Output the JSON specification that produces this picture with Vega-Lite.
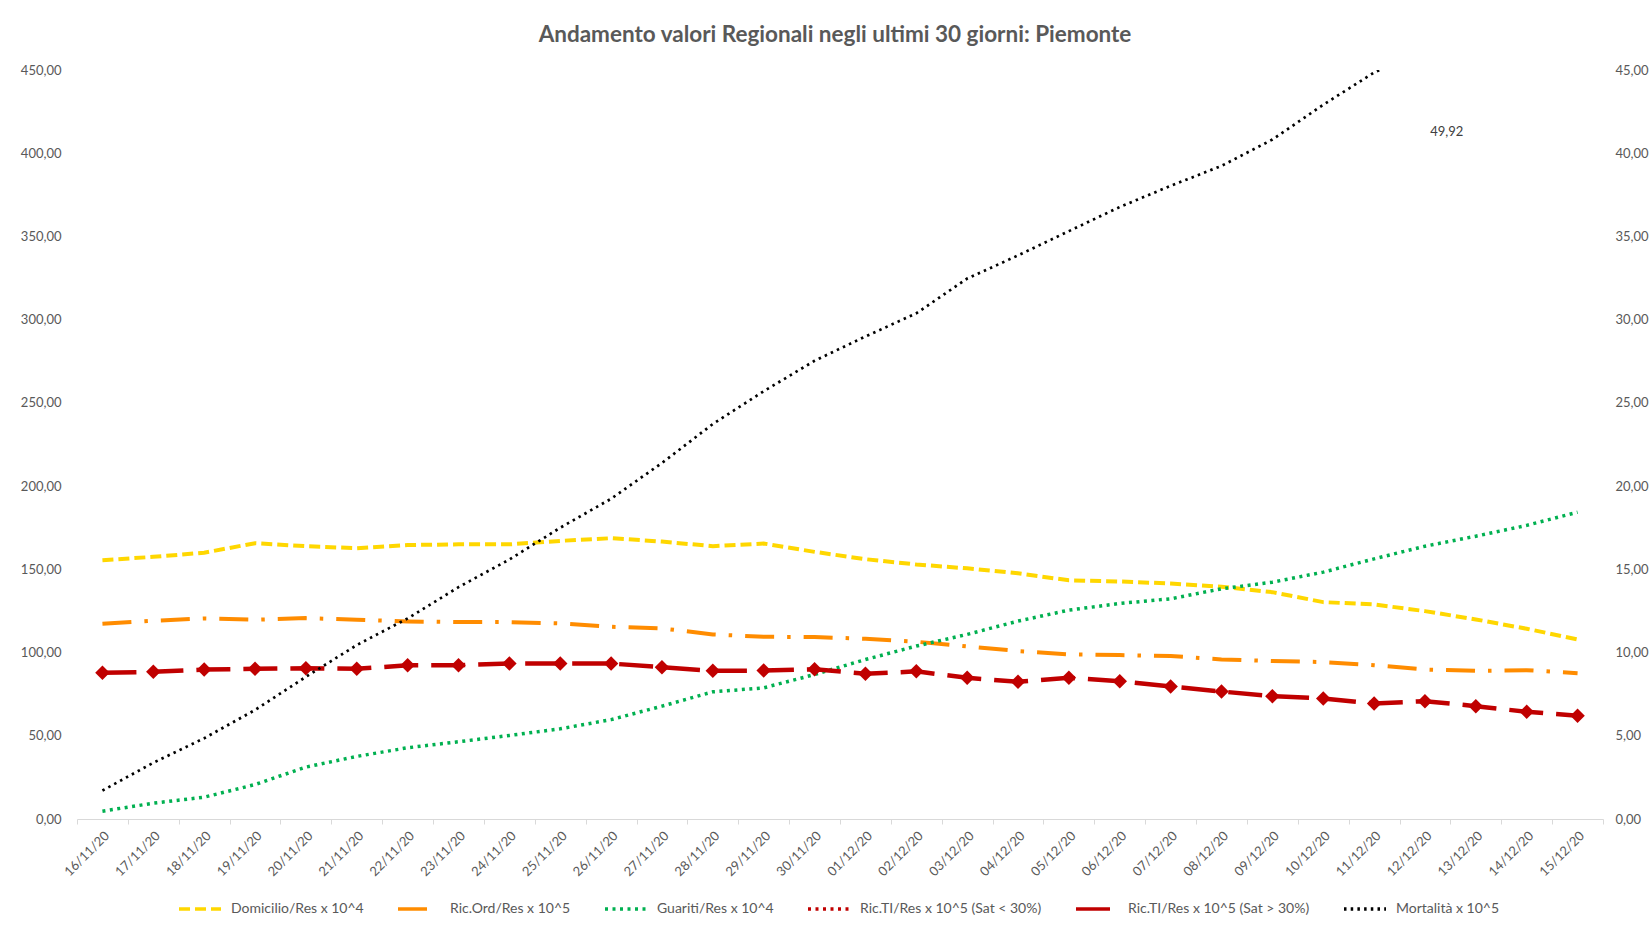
{
  "$schema": "https://vega.github.io/schema/vega-lite/v6.json",
  "width": 1526,
  "height": 749,
  "autosize": {"type": "none"},
  "padding": {"left": 77, "top": 70, "right": 49, "bottom": 111},
  "background": "white",
  "config": {
    "font": "Lato",
    "view": {"stroke": null},
    "axis": {"grid": false, "labelColor": "#595959", "labelFontSize": 13, "labelFont": "Lato"}
  },
  "title": {
    "text": "Andamento valori Regionali negli ultimi 30 giorni: Piemonte",
    "fontSize": 22.5,
    "fontWeight": "bold",
    "color": "#595959",
    "font": "Lato",
    "anchor": "middle",
    "offset": 18,
    "dx": -5
  },
  "datasets": {
    "left": [
      {"date": "16/11/20", "series": "Domicilio/Res x 10^4", "value": 155.5},
      {"date": "17/11/20", "series": "Domicilio/Res x 10^4", "value": 157.5},
      {"date": "18/11/20", "series": "Domicilio/Res x 10^4", "value": 160.0},
      {"date": "19/11/20", "series": "Domicilio/Res x 10^4", "value": 165.7},
      {"date": "20/11/20", "series": "Domicilio/Res x 10^4", "value": 163.9},
      {"date": "21/11/20", "series": "Domicilio/Res x 10^4", "value": 162.7},
      {"date": "22/11/20", "series": "Domicilio/Res x 10^4", "value": 164.6},
      {"date": "23/11/20", "series": "Domicilio/Res x 10^4", "value": 165.0},
      {"date": "24/11/20", "series": "Domicilio/Res x 10^4", "value": 165.0},
      {"date": "25/11/20", "series": "Domicilio/Res x 10^4", "value": 167.1},
      {"date": "26/11/20", "series": "Domicilio/Res x 10^4", "value": 168.7},
      {"date": "27/11/20", "series": "Domicilio/Res x 10^4", "value": 166.7},
      {"date": "28/11/20", "series": "Domicilio/Res x 10^4", "value": 163.9},
      {"date": "29/11/20", "series": "Domicilio/Res x 10^4", "value": 165.5},
      {"date": "30/11/20", "series": "Domicilio/Res x 10^4", "value": 160.5},
      {"date": "01/12/20", "series": "Domicilio/Res x 10^4", "value": 156.1},
      {"date": "02/12/20", "series": "Domicilio/Res x 10^4", "value": 152.9},
      {"date": "03/12/20", "series": "Domicilio/Res x 10^4", "value": 150.6},
      {"date": "04/12/20", "series": "Domicilio/Res x 10^4", "value": 147.6},
      {"date": "05/12/20", "series": "Domicilio/Res x 10^4", "value": 143.4},
      {"date": "06/12/20", "series": "Domicilio/Res x 10^4", "value": 142.7},
      {"date": "07/12/20", "series": "Domicilio/Res x 10^4", "value": 141.5},
      {"date": "08/12/20", "series": "Domicilio/Res x 10^4", "value": 139.5},
      {"date": "09/12/20", "series": "Domicilio/Res x 10^4", "value": 136.3},
      {"date": "10/12/20", "series": "Domicilio/Res x 10^4", "value": 130.3},
      {"date": "11/12/20", "series": "Domicilio/Res x 10^4", "value": 128.9},
      {"date": "12/12/20", "series": "Domicilio/Res x 10^4", "value": 124.9},
      {"date": "13/12/20", "series": "Domicilio/Res x 10^4", "value": 119.9},
      {"date": "14/12/20", "series": "Domicilio/Res x 10^4", "value": 114.3},
      {"date": "15/12/20", "series": "Domicilio/Res x 10^4", "value": 107.9},
      {"date": "16/11/20", "series": "Ric.Ord/Res x 10^5", "value": 117.3},
      {"date": "17/11/20", "series": "Ric.Ord/Res x 10^5", "value": 119.1},
      {"date": "18/11/20", "series": "Ric.Ord/Res x 10^5", "value": 120.5},
      {"date": "19/11/20", "series": "Ric.Ord/Res x 10^5", "value": 119.7},
      {"date": "20/11/20", "series": "Ric.Ord/Res x 10^5", "value": 120.7},
      {"date": "21/11/20", "series": "Ric.Ord/Res x 10^5", "value": 119.7},
      {"date": "22/11/20", "series": "Ric.Ord/Res x 10^5", "value": 118.7},
      {"date": "23/11/20", "series": "Ric.Ord/Res x 10^5", "value": 118.3},
      {"date": "24/11/20", "series": "Ric.Ord/Res x 10^5", "value": 118.3},
      {"date": "25/11/20", "series": "Ric.Ord/Res x 10^5", "value": 117.5},
      {"date": "26/11/20", "series": "Ric.Ord/Res x 10^5", "value": 115.5},
      {"date": "27/11/20", "series": "Ric.Ord/Res x 10^5", "value": 114.5},
      {"date": "28/11/20", "series": "Ric.Ord/Res x 10^5", "value": 110.9},
      {"date": "29/11/20", "series": "Ric.Ord/Res x 10^5", "value": 109.5},
      {"date": "30/11/20", "series": "Ric.Ord/Res x 10^5", "value": 109.3},
      {"date": "01/12/20", "series": "Ric.Ord/Res x 10^5", "value": 108.3},
      {"date": "02/12/20", "series": "Ric.Ord/Res x 10^5", "value": 106.5},
      {"date": "03/12/20", "series": "Ric.Ord/Res x 10^5", "value": 103.7},
      {"date": "04/12/20", "series": "Ric.Ord/Res x 10^5", "value": 100.9},
      {"date": "05/12/20", "series": "Ric.Ord/Res x 10^5", "value": 98.9},
      {"date": "06/12/20", "series": "Ric.Ord/Res x 10^5", "value": 98.5},
      {"date": "07/12/20", "series": "Ric.Ord/Res x 10^5", "value": 97.9},
      {"date": "08/12/20", "series": "Ric.Ord/Res x 10^5", "value": 95.9},
      {"date": "09/12/20", "series": "Ric.Ord/Res x 10^5", "value": 94.9},
      {"date": "10/12/20", "series": "Ric.Ord/Res x 10^5", "value": 94.3},
      {"date": "11/12/20", "series": "Ric.Ord/Res x 10^5", "value": 92.4},
      {"date": "12/12/20", "series": "Ric.Ord/Res x 10^5", "value": 89.8},
      {"date": "13/12/20", "series": "Ric.Ord/Res x 10^5", "value": 89.0},
      {"date": "14/12/20", "series": "Ric.Ord/Res x 10^5", "value": 89.4},
      {"date": "15/12/20", "series": "Ric.Ord/Res x 10^5", "value": 87.6},
      {"date": "16/11/20", "series": "Guariti/Res x 10^4", "value": 4.7},
      {"date": "17/11/20", "series": "Guariti/Res x 10^4", "value": 9.5},
      {"date": "18/11/20", "series": "Guariti/Res x 10^4", "value": 13.1},
      {"date": "19/11/20", "series": "Guariti/Res x 10^4", "value": 20.7},
      {"date": "20/11/20", "series": "Guariti/Res x 10^4", "value": 31.2},
      {"date": "21/11/20", "series": "Guariti/Res x 10^4", "value": 37.6},
      {"date": "22/11/20", "series": "Guariti/Res x 10^4", "value": 42.8},
      {"date": "23/11/20", "series": "Guariti/Res x 10^4", "value": 46.4},
      {"date": "24/11/20", "series": "Guariti/Res x 10^4", "value": 50.2},
      {"date": "25/11/20", "series": "Guariti/Res x 10^4", "value": 54.2},
      {"date": "26/11/20", "series": "Guariti/Res x 10^4", "value": 59.7},
      {"date": "27/11/20", "series": "Guariti/Res x 10^4", "value": 67.8},
      {"date": "28/11/20", "series": "Guariti/Res x 10^4", "value": 76.4},
      {"date": "29/11/20", "series": "Guariti/Res x 10^4", "value": 78.8},
      {"date": "30/11/20", "series": "Guariti/Res x 10^4", "value": 86.8},
      {"date": "01/12/20", "series": "Guariti/Res x 10^4", "value": 95.8},
      {"date": "02/12/20", "series": "Guariti/Res x 10^4", "value": 103.9},
      {"date": "03/12/20", "series": "Guariti/Res x 10^4", "value": 110.9},
      {"date": "04/12/20", "series": "Guariti/Res x 10^4", "value": 118.9},
      {"date": "05/12/20", "series": "Guariti/Res x 10^4", "value": 125.5},
      {"date": "06/12/20", "series": "Guariti/Res x 10^4", "value": 129.5},
      {"date": "07/12/20", "series": "Guariti/Res x 10^4", "value": 132.3},
      {"date": "08/12/20", "series": "Guariti/Res x 10^4", "value": 138.3},
      {"date": "09/12/20", "series": "Guariti/Res x 10^4", "value": 142.3},
      {"date": "10/12/20", "series": "Guariti/Res x 10^4", "value": 148.3},
      {"date": "11/12/20", "series": "Guariti/Res x 10^4", "value": 156.3},
      {"date": "12/12/20", "series": "Guariti/Res x 10^4", "value": 163.9},
      {"date": "13/12/20", "series": "Guariti/Res x 10^4", "value": 169.9},
      {"date": "14/12/20", "series": "Guariti/Res x 10^4", "value": 176.4},
      {"date": "15/12/20", "series": "Guariti/Res x 10^4", "value": 184.3}
    ],
    "right": [
      {"date": "16/11/20", "series": "Ric.TI/Res x 10^5 (Sat > 30%)", "value": 8.78},
      {"date": "17/11/20", "series": "Ric.TI/Res x 10^5 (Sat > 30%)", "value": 8.84},
      {"date": "18/11/20", "series": "Ric.TI/Res x 10^5 (Sat > 30%)", "value": 8.98},
      {"date": "19/11/20", "series": "Ric.TI/Res x 10^5 (Sat > 30%)", "value": 9.02},
      {"date": "20/11/20", "series": "Ric.TI/Res x 10^5 (Sat > 30%)", "value": 9.06},
      {"date": "21/11/20", "series": "Ric.TI/Res x 10^5 (Sat > 30%)", "value": 9.02},
      {"date": "22/11/20", "series": "Ric.TI/Res x 10^5 (Sat > 30%)", "value": 9.24},
      {"date": "23/11/20", "series": "Ric.TI/Res x 10^5 (Sat > 30%)", "value": 9.24},
      {"date": "24/11/20", "series": "Ric.TI/Res x 10^5 (Sat > 30%)", "value": 9.34},
      {"date": "25/11/20", "series": "Ric.TI/Res x 10^5 (Sat > 30%)", "value": 9.34},
      {"date": "26/11/20", "series": "Ric.TI/Res x 10^5 (Sat > 30%)", "value": 9.34},
      {"date": "27/11/20", "series": "Ric.TI/Res x 10^5 (Sat > 30%)", "value": 9.12},
      {"date": "28/11/20", "series": "Ric.TI/Res x 10^5 (Sat > 30%)", "value": 8.90},
      {"date": "29/11/20", "series": "Ric.TI/Res x 10^5 (Sat > 30%)", "value": 8.92},
      {"date": "30/11/20", "series": "Ric.TI/Res x 10^5 (Sat > 30%)", "value": 9.00},
      {"date": "01/12/20", "series": "Ric.TI/Res x 10^5 (Sat > 30%)", "value": 8.72},
      {"date": "02/12/20", "series": "Ric.TI/Res x 10^5 (Sat > 30%)", "value": 8.87},
      {"date": "03/12/20", "series": "Ric.TI/Res x 10^5 (Sat > 30%)", "value": 8.48},
      {"date": "04/12/20", "series": "Ric.TI/Res x 10^5 (Sat > 30%)", "value": 8.25},
      {"date": "05/12/20", "series": "Ric.TI/Res x 10^5 (Sat > 30%)", "value": 8.48},
      {"date": "06/12/20", "series": "Ric.TI/Res x 10^5 (Sat > 30%)", "value": 8.28},
      {"date": "07/12/20", "series": "Ric.TI/Res x 10^5 (Sat > 30%)", "value": 7.96},
      {"date": "08/12/20", "series": "Ric.TI/Res x 10^5 (Sat > 30%)", "value": 7.66},
      {"date": "09/12/20", "series": "Ric.TI/Res x 10^5 (Sat > 30%)", "value": 7.38},
      {"date": "10/12/20", "series": "Ric.TI/Res x 10^5 (Sat > 30%)", "value": 7.24},
      {"date": "11/12/20", "series": "Ric.TI/Res x 10^5 (Sat > 30%)", "value": 6.94},
      {"date": "12/12/20", "series": "Ric.TI/Res x 10^5 (Sat > 30%)", "value": 7.08},
      {"date": "13/12/20", "series": "Ric.TI/Res x 10^5 (Sat > 30%)", "value": 6.78},
      {"date": "14/12/20", "series": "Ric.TI/Res x 10^5 (Sat > 30%)", "value": 6.44},
      {"date": "15/12/20", "series": "Ric.TI/Res x 10^5 (Sat > 30%)", "value": 6.21},
      {"date": "16/11/20", "series": "Mortalità x 10^5", "value": 1.71},
      {"date": "17/11/20", "series": "Mortalità x 10^5", "value": 3.38},
      {"date": "18/11/20", "series": "Mortalità x 10^5", "value": 4.85},
      {"date": "19/11/20", "series": "Mortalità x 10^5", "value": 6.55},
      {"date": "20/11/20", "series": "Mortalità x 10^5", "value": 8.54},
      {"date": "21/11/20", "series": "Mortalità x 10^5", "value": 10.45},
      {"date": "22/11/20", "series": "Mortalità x 10^5", "value": 12.05},
      {"date": "23/11/20", "series": "Mortalità x 10^5", "value": 13.93},
      {"date": "24/11/20", "series": "Mortalità x 10^5", "value": 15.59},
      {"date": "25/11/20", "series": "Mortalità x 10^5", "value": 17.50},
      {"date": "26/11/20", "series": "Mortalità x 10^5", "value": 19.24},
      {"date": "27/11/20", "series": "Mortalità x 10^5", "value": 21.39},
      {"date": "28/11/20", "series": "Mortalità x 10^5", "value": 23.73},
      {"date": "29/11/20", "series": "Mortalità x 10^5", "value": 25.70},
      {"date": "30/11/20", "series": "Mortalità x 10^5", "value": 27.53},
      {"date": "01/12/20", "series": "Mortalità x 10^5", "value": 28.99},
      {"date": "02/12/20", "series": "Mortalità x 10^5", "value": 30.38},
      {"date": "03/12/20", "series": "Mortalità x 10^5", "value": 32.47},
      {"date": "04/12/20", "series": "Mortalità x 10^5", "value": 33.86},
      {"date": "05/12/20", "series": "Mortalità x 10^5", "value": 35.32},
      {"date": "06/12/20", "series": "Mortalità x 10^5", "value": 36.77},
      {"date": "07/12/20", "series": "Mortalità x 10^5", "value": 38.04},
      {"date": "08/12/20", "series": "Mortalità x 10^5", "value": 39.24},
      {"date": "09/12/20", "series": "Mortalità x 10^5", "value": 40.82},
      {"date": "10/12/20", "series": "Mortalità x 10^5", "value": 42.91},
      {"date": "11/12/20", "series": "Mortalità x 10^5", "value": 44.85},
      {"date": "12/12/20", "series": "Mortalità x 10^5", "value": 46.2},
      {"date": "13/12/20", "series": "Mortalità x 10^5", "value": 47.5},
      {"date": "14/12/20", "series": "Mortalità x 10^5", "value": 48.7},
      {"date": "15/12/20", "series": "Mortalità x 10^5", "value": 49.92}
    ],
    "labels": [
      {"date": "13/12/20", "value": 41.3, "label": "49,92"}
    ]
  },
  "encoding": {
    "x": {
      "field": "date",
      "type": "ordinal",
      "bandPosition": 0.5,
      "scale": {
        "type": "band",
        "paddingInner": 0,
        "paddingOuter": 0,
        "domain": ["16/11/20","17/11/20","18/11/20","19/11/20","20/11/20","21/11/20","22/11/20","23/11/20","24/11/20","25/11/20","26/11/20","27/11/20","28/11/20","29/11/20","30/11/20","01/12/20","02/12/20","03/12/20","04/12/20","05/12/20","06/12/20","07/12/20","08/12/20","09/12/20","10/12/20","11/12/20","12/12/20","13/12/20","14/12/20","15/12/20"]
      },
      "axis": {
        "title": null,
        "labelAngle": -45,
        "labelFontSize": 13,
        "labelColor": "#595959",
        "domainColor": "#d9d9d9",
        "domainWidth": 1,
        "tickColor": "#d9d9d9",
        "tickSize": 5,
        "tickBand": "extent",
        "labelPadding": 5,
        "grid": false
      }
    }
  },
  "layer": [
    {
      "data": {"name": "left"},
      "encoding": {
        "y": {
          "field": "value",
          "type": "quantitative",
          "scale": {"domain": [0, 450], "nice": false, "zero": true},
          "axis": {
            "orient": "left",
            "title": null,
            "domain": false,
            "ticks": false,
            "grid": false,
            "values": [0, 50, 100, 150, 200, 250, 300, 350, 400, 450],
            "labelExpr": "replace(format(datum.value, '.2f'), '.', ',')",
            "labelPadding": 16,
            "labelFontSize": 13,
            "labelColor": "#595959"
          }
        }
      },
      "layer": [
        {
          "transform": [{"filter": "datum.series === 'Domicilio/Res x 10^4'"}],
          "mark": {"type": "line", "strokeWidth": 4, "strokeCap": "butt"},
          "encoding": {
            "color": {
              "field": "series",
              "type": "nominal",
              "scale": {
                "domain": ["Domicilio/Res x 10^4", "Ric.Ord/Res x 10^5", "Guariti/Res x 10^4", "Ric.TI/Res x 10^5 (Sat < 30%)", "Ric.TI/Res x 10^5 (Sat > 30%)", "Mortalità x 10^5"],
                "range": ["#FFD700", "#FF8C00", "#00B050", "#C00000", "#C00000", "#000000"]
              },
              "legend": {
                "title": null,
                "orient": "none",
                "legendX": 100,
                "legendY": 816,
                "direction": "horizontal",
                "columns": 6,
                "symbolType": "stroke",
                "symbolSize": 1764,
                "symbolStrokeWidth": 3.5,
                "labelFontSize": 14,
                "labelColor": "#595959",
                "labelFont": "Lato",
                "labelLimit": 0,
                "columnPadding": 27,
                "labelOffset": 8
              }
            },
            "strokeDash": {
              "field": "series",
              "type": "nominal",
              "scale": {
                "domain": ["Domicilio/Res x 10^4", "Ric.Ord/Res x 10^5", "Guariti/Res x 10^4", "Ric.TI/Res x 10^5 (Sat < 30%)", "Ric.TI/Res x 10^5 (Sat > 30%)", "Mortalità x 10^5"],
                "range": [[11, 5], [29, 13, 3.5, 13], [3, 4.5], [3, 4.5], [34, 13], [2.5, 4.2]]
              }
            }
          }
        },
        {
          "transform": [{"filter": "datum.series === 'Ric.Ord/Res x 10^5'"}],
          "mark": {"type": "line", "strokeWidth": 4, "strokeCap": "butt"},
          "encoding": {
            "color": {"field": "series", "type": "nominal"},
            "strokeDash": {"field": "series", "type": "nominal"}
          }
        },
        {
          "transform": [{"filter": "datum.series === 'Guariti/Res x 10^4'"}],
          "mark": {"type": "line", "strokeWidth": 3.5, "strokeCap": "butt"},
          "encoding": {
            "color": {"field": "series", "type": "nominal"},
            "strokeDash": {"field": "series", "type": "nominal"}
          }
        }
      ]
    },
    {
      "data": {"name": "right"},
      "encoding": {
        "y": {
          "field": "value",
          "type": "quantitative",
          "scale": {"domain": [0, 45], "nice": false, "zero": true},
          "axis": {
            "orient": "right",
            "title": null,
            "domain": false,
            "ticks": false,
            "grid": false,
            "values": [0, 5, 10, 15, 20, 25, 30, 35, 40, 45],
            "labelExpr": "replace(format(datum.value, '.2f'), '.', ',')",
            "labelPadding": 12,
            "labelFontSize": 13,
            "labelColor": "#595959"
          }
        }
      },
      "layer": [
        {
          "transform": [{"filter": "datum.series === 'Ric.TI/Res x 10^5 (Sat > 30%)'"}],
          "mark": {"type": "line", "strokeWidth": 4.5, "strokeCap": "butt"},
          "encoding": {
            "color": {"field": "series", "type": "nominal"},
            "strokeDash": {"field": "series", "type": "nominal"}
          }
        },
        {
          "transform": [{"filter": "datum.series === 'Ric.TI/Res x 10^5 (Sat > 30%)'"}],
          "mark": {"type": "point", "shape": "diamond", "filled": true, "size": 210, "color": "#C00000", "opacity": 1}
        },
        {
          "transform": [{"filter": "datum.series === 'Mortalità x 10^5'"}],
          "mark": {"type": "line", "strokeWidth": 2.7, "strokeCap": "butt", "clip": true},
          "encoding": {
            "color": {"field": "series", "type": "nominal"},
            "strokeDash": {"field": "series", "type": "nominal"}
          }
        },
        {
          "data": {"name": "labels"},
          "mark": {"type": "text", "fontSize": 13, "color": "#404040", "font": "Lato", "dx": -29, "align": "center", "baseline": "middle"},
          "encoding": {"text": {"field": "label", "type": "nominal"}}
        }
      ]
    }
  ],
  "resolve": {"scale": {"y": "independent"}}
}
